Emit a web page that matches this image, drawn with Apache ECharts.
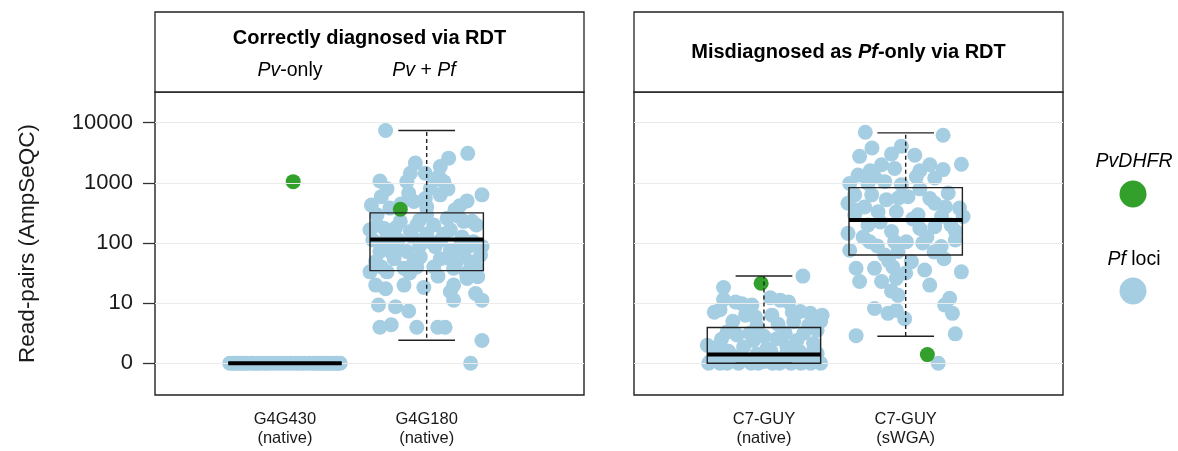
<!DOCTYPE html>
<html><head><meta charset="utf-8">
<script src="https://cdn.jsdelivr.net/npm/echarts@6/dist/echarts.min.js"></script>
<style>html,body{margin:0;padding:0;background:#fff}#c{width:1178px;height:451px}</style>
</head><body><div id="c"></div>
<script>
// ---------- data (y values are log10 read-pairs; x values are jitter offsets from the category position) ----------
const categoriesLeft = ['G4G430\n(native)', 'G4G180\n(native)'];
const categoriesRight = ['C7-GUY\n(native)', 'C7-GUY\n(sWGA)'];
const yTickValues = [0, 1, 2, 3, 4];
const yTickLabels = ['0', '10', '100', '1000', '10000'];

// box stats: [category, lowWhisker, q1, median, q3, highWhisker]
const boxLeft = [[1, 0, 0, 0, 0, 0], [2, 0.383, 1.54, 2.06, 2.5, 3.87]];
const boxRight = [[1, 0, 0, 0.145, 0.594, 1.45], [2, 0.45, 1.8, 2.383, 2.92, 3.83]];

// PvDHFR points: [category, xOffset, log10 reads]
const pvLeft = [[1, 0.058, 3.02], [2, -0.186, 2.56]];
const pvRight = [[1, -0.02, 1.33], [2, 0.153, 0.145]];

// Pf loci points: [xOffset, log10 reads]
const pfG4G430 = [[-0.39,0],[-0.37,0],[-0.35,0],[-0.33,0],[-0.31,0],[-0.29,0],[-0.27,0],[-0.24,0],[-0.22,0],[-0.2,0],
  [-0.18,0],[-0.15,0],[-0.13,0],[-0.11,0],[-0.08,0],[-0.05,0],[-0.02,0],[0.01,0],[0.04,0],[0.07,0],[0.09,0],[0.12,0],
  [0.14,0],[0.17,0],[0.2,0],[0.22,0],[0.24,0],[0.26,0],[0.28,0],[0.3,0],[0.32,0],[0.34,0],[0.36,0],[0.37,0],[0.39,0]];
const pfG4G180 = [[-0.29,3.87],[0.29,3.49],[0.155,3.41],[0.096,3.27],[-0.08,3.33],[-0.01,3.16],[-0.115,3.16],[-0.33,3.03],
  [-0.14,3.02],[0.085,3.1],[0.12,3.02],[0.026,2.91],[0.096,2.8],[-0.32,2.77],[-0.127,2.83],[0.39,2.8],[0.285,2.7],
  [0.233,2.62],[-0.39,2.63],[-0.01,2.74],[-0.09,2.69],[-0.35,2.47],[-0.26,2.58],[0,2.47],[0.144,2.41],[0.26,2.36],
  [0.32,2.36],[-0.4,2.22],[-0.28,2.11],[-0.07,2.3],[0.05,2.3],[0.167,2.22],[-0.115,2.19],[-0.186,2.36],[0.33,2.02],
  [0.39,1.94],[0.24,1.97],[0.026,2.02],[-0.21,1.94],[-0.33,1.86],[-0.14,1.86],[0.167,1.88],[0.096,1.74],[-0.045,1.77],
  [-0.23,1.74],[-0.36,1.69],[0.31,1.69],[0.26,1.8],[0.38,1.8],[-0.4,1.52],[-0.28,1.52],[-0.16,1.58],[-0.07,1.6],
  [0.05,1.6],[0.19,1.58],[0.285,1.41],[0.36,1.44],[-0.36,1.3],[-0.29,1.24],[-0.16,1.3],[-0.02,1.26],[0.167,1.19],
  [0.19,1.3],[0.345,1.16],[0.39,1.05],[0.19,1.05],[-0.34,0.97],[-0.22,0.94],[-0.127,0.87],[-0.33,0.6],[-0.25,0.64],
  [-0.07,0.6],[0.078,0.6],[0.13,0.6],[0.39,0.38],[0.31,0.0],[-0.3,2.24],[0.21,1.69],[-0.09,1.69],[0.06,1.94],
  [-0.38,2.05],[0.12,2.15],[-0.2,2.05],[0.35,2.3],[0.0,2.6],[-0.05,2.38],[0.2,2.55],[-0.3,2.0],
  [-0.35,2.3],[-0.22,2.25],[-0.1,2.1],[0.0,2.15],[0.1,2.05],[0.25,2.1],[0.3,1.95],[-0.25,1.85],[-0.05,1.95],[0.15,1.75],
  [0.35,1.6],[-0.32,1.6],[-0.12,1.5],[0.08,1.45],[0.28,1.5],[-0.18,2.65],[0.15,2.9],[0.22,2.45],[-0.28,2.9],[0.05,3.05]];
const pfC7Native = [[0.275,1.45],[-0.285,1.26],[-0.285,1.06],[-0.31,0.89],[-0.155,0.99],[-0.085,0.97],[0.045,1.09],
  [0.115,1.05],[0.174,1.02],[-0.13,0.8],[-0.06,0.77],[0.056,0.8],[0.256,0.86],[0.327,0.83],[0.41,0.8],[0.21,0.69],
  [0.315,0.63],[0.375,0.55],[-0.4,0.3],[-0.26,0.52],[-0.19,0.47],[-0.073,0.38],[0.092,0.41],[0.233,0.38],[0.35,0.33],
  [-0.33,0.27],[-0.144,0.27],[0.02,0.24],[0.162,0.27],[0.375,0.16],[-0.38,0.03],[-0.285,0.02],[-0.19,0.03],
  [-0.096,0.02],[0,0.03],[0.092,0.02],[0.186,0.03],[0.28,0.02],[0.375,0.03],[-0.39,0],[-0.31,0],[-0.26,0],[-0.18,0],
  [-0.09,0],[-0.04,0],[0.06,0],[0.11,0],[0.19,0],[0.26,0],[0.33,0],[0.4,0],[-0.22,0.12],[0.05,0.1],[0.3,0.11],[-0.35,0.14],
  [-0.35,0.1],[-0.25,0.2],[-0.15,0.1],[-0.05,0.15],[0.05,0.2],[0.15,0.12],[0.25,0.2],[0.35,0.22],[-0.3,0.4],[-0.1,0.5],
  [0.0,0.45],[0.15,0.5],[0.28,0.5],[-0.22,0.7],[-0.05,0.62],[0.1,0.65],[0.4,0.7],[-0.35,0.85],[0.2,0.85],[-0.2,1.02]];
const pfC7SWGA = [[-0.285,3.84],[0.264,3.79],[0.393,3.31],[-0.238,3.58],[-0.325,3.44],[-0.03,3.61],[0.064,3.46],
  [-0.1,3.48],[0.17,3.3],[0.264,3.22],[-0.17,3.3],[-0.078,3.24],[0.075,3.1],[-0.22,3.1],[-0.336,3.13],[-0.395,2.99],
  [0.205,3.08],[-0.148,3.02],[-0.03,2.97],[0.3,2.83],[-0.407,2.66],[-0.24,2.8],[-0.136,2.72],[0.016,2.77],[0.17,2.74],
  [0.205,2.66],[0.38,2.58],[-0.29,2.6],[0.087,2.47],[0.253,2.44],[0.405,2.44],[-0.36,2.47],[-0.195,2.52],[-0.066,2.52],
  [-0.407,2.16],[-0.266,2.3],[-0.1,2.19],[0.1,2.24],[0.205,2.27],[0.32,2.3],[0.35,2.05],[-0.395,1.88],[-0.254,2.02],
  [-0.078,2.02],[0.005,2.02],[0.12,2.0],[0.25,1.94],[-0.054,1.86],[0.04,1.69],[0.27,1.74],[-0.35,1.58],[-0.22,1.58],
  [-0.09,1.6],[0.134,1.55],[0.393,1.52],[-0.325,1.36],[-0.17,1.36],[-0.066,1.41],[0.17,1.3],[-0.054,1.13],[0.31,1.08],
  [0.275,0.97],[0.33,0.83],[-0.22,0.91],[-0.125,0.83],[-0.066,0.88],[-0.007,0.74],[-0.35,0.46],[0.35,0.49],[0.23,0.0],
  [-0.148,1.8],[-0.36,2.8],[-0.266,2.99],
  [-0.3,2.1],[-0.18,2.35],[0.05,2.4],[0.15,2.1],[0.28,2.6],[-0.05,2.75],[0.1,2.9],[-0.35,2.55],[0.35,2.2],[-0.2,1.95],
  [0.2,1.85],[-0.12,1.7],[0.0,1.5],[-0.1,1.2],[0.1,3.2],[-0.25,3.2]];

// ---------- styling / layout ----------
const FONT = 'Liberation Sans, Arial, Helvetica, sans-serif';
const BLUE = '#a6cee3', GREEN = '#33a02c', INK = '#1a1a1a', FRAME = '#222';
const P0 = {left: 155, top: 92, width: 429, height: 303};
const P1 = {left: 634, top: 92, width: 429, height: 303};
const HEAD_TOP = 12;

function withCat(cat, arr) { return arr.map(p => [cat + p[0], p[1]]); }

function renderBox(params, api) {
  const x = api.value(0), lo = api.value(1), q1 = api.value(2), med = api.value(3), q3 = api.value(4), hi = api.value(5);
  const hw = 0.4, cw = 0.2;
  const a = api.coord([x - hw, q3]), b = api.coord([x + hw, q1]);
  const m1 = api.coord([x - hw, med]), m2 = api.coord([x + hw, med]);
  const cHi = api.coord([x, hi]), cQ3 = api.coord([x, q3]), cQ1 = api.coord([x, q1]), cLo = api.coord([x, lo]);
  const capHiL = api.coord([x - cw, hi]), capHiR = api.coord([x + cw, hi]);
  const capLoL = api.coord([x - cw, lo]), capLoR = api.coord([x + cw, lo]);
  const thin = {stroke: FRAME, lineWidth: 1.4, fill: null};
  const dash = {stroke: FRAME, lineWidth: 1.4, lineDash: [4, 3]};
  const children = [];
  if (hi > q3) children.push({type: 'line', shape: {x1: cQ3[0], y1: cQ3[1], x2: cHi[0], y2: cHi[1]}, style: dash});
  if (lo < q1) children.push({type: 'line', shape: {x1: cQ1[0], y1: cQ1[1], x2: cLo[0], y2: cLo[1]}, style: dash});
  children.push({type: 'line', shape: {x1: capHiL[0], y1: capHiL[1], x2: capHiR[0], y2: capHiR[1]}, style: thin});
  children.push({type: 'line', shape: {x1: capLoL[0], y1: capLoL[1], x2: capLoR[0], y2: capLoR[1]}, style: thin});
  children.push({type: 'rect', shape: {x: a[0], y: a[1], width: b[0] - a[0], height: b[1] - a[1]}, style: thin});
  children.push({type: 'line', shape: {x1: m1[0], y1: m1[1], x2: m2[0], y2: m2[1]}, style: {stroke: '#000', lineWidth: 4}});
  return {type: 'group', children};
}

function xAxisFor(idx, cats) {
  return {
    gridIndex: idx, type: 'value', min: 0.083, max: 3.11,
    axisLine: {show: false}, axisTick: {show: false}, splitLine: {show: false},
    axisLabel: {customValues: [1, 2], formatter: v => cats[Math.round(v) - 1] || '',
      fontFamily: FONT, fontSize: 16.5, lineHeight: 19, color: INK, margin: 15}
  };
}
function yAxisFor(idx, showLabels) {
  return {
    gridIndex: idx, type: 'value', min: -0.527, max: 4.51,
    axisLine: {show: false}, splitLine: {show: false},
    axisTick: {show: showLabels, customValues: yTickValues, length: 12, lineStyle: {color: '#333', width: 1.3}},
    axisLabel: {show: showLabels, customValues: yTickValues,
      formatter: v => yTickLabels[yTickValues.indexOf(Math.round(v))] || '',
      fontFamily: FONT, fontSize: 22, color: INK, margin: 22},
    name: showLabels ? 'Read-pairs (AmpSeQC)' : '', nameLocation: 'middle', nameGap: 116,
    nameTextStyle: {fontFamily: FONT, fontSize: 22.5, color: INK}
  };
}
function gridLines(idx) {
  return {type: 'line', xAxisIndex: idx, yAxisIndex: idx, data: [], z: 1, silent: true,
    markLine: {silent: true, symbol: 'none', label: {show: false}, animation: false,
      lineStyle: {color: '#ebebeb', width: 1, type: 'solid'},
      data: yTickValues.map(v => ({yAxis: v}))}};
}
function scatter(idx, data, color, z) {
  return {type: 'scatter', xAxisIndex: idx, yAxisIndex: idx, data, symbolSize: 15, z, silent: true,
    itemStyle: {color, opacity: 1}};
}
function boxes(idx, data) {
  return {type: 'custom', xAxisIndex: idx, yAxisIndex: idx, data, renderItem: renderBox, z: 5, silent: true,
    encode: {x: 0, y: [1, 2, 3, 4, 5]}};
}

const head = (p) => ({type: 'rect', shape: {x: p.left, y: HEAD_TOP, width: p.width, height: p.top - HEAD_TOP},
  style: {fill: '#fff', stroke: FRAME, lineWidth: 1.3}});
const txt = (x, y, text, rich) => ({type: 'text', x, y, style: {text, rich, align: 'center', verticalAlign: 'middle',
  fontFamily: FONT, fill: '#000'}});
const richHead = {
  b: {fontFamily: FONT, fontSize: 20, fontWeight: 'bold', fill: '#000'},
  bi: {fontFamily: FONT, fontSize: 20, fontWeight: 'bold', fontStyle: 'italic', fill: '#000'},
  r: {fontFamily: FONT, fontSize: 19.5, fill: '#000'},
  i: {fontFamily: FONT, fontSize: 19.5, fontStyle: 'italic', fill: '#000'}
};

const option = {
  animation: false,
  backgroundColor: '#fff',
  grid: [
    Object.assign({show: true, borderColor: FRAME, borderWidth: 1.4, backgroundColor: 'transparent'}, P0),
    Object.assign({show: true, borderColor: FRAME, borderWidth: 1.4, backgroundColor: 'transparent'}, P1)
  ],
  xAxis: [xAxisFor(0, categoriesLeft), xAxisFor(1, categoriesRight)],
  yAxis: [yAxisFor(0, true), yAxisFor(1, false)],
  series: [
    gridLines(0), gridLines(1),
    scatter(0, withCat(1, pfG4G430).concat(withCat(2, pfG4G180)), BLUE, 2),
    scatter(1, withCat(1, pfC7Native).concat(withCat(2, pfC7SWGA)), BLUE, 2),
    scatter(0, pvLeft.map(p => [p[0] + p[1], p[2]]), GREEN, 3),
    scatter(1, pvRight.map(p => [p[0] + p[1], p[2]]), GREEN, 3),
    boxes(0, boxLeft), boxes(1, boxRight)
  ],
  graphic: [
    head(P0), head(P1),
    txt(P0.left + P0.width / 2, 38, '{b|Correctly diagnosed via RDT}', richHead),
    txt(290, 71, '{i|Pv}{r|-only}', richHead),
    txt(424, 71, '{i|Pv}{r| + }{i|Pf}', richHead),
    txt(P1.left + P1.width / 2, 52, '{b|Misdiagnosed as }{bi|Pf}{b|-only via RDT}', richHead),
    txt(1134, 162, '{i|PvDHFR}', richHead),
    {type: 'circle', shape: {cx: 1133, cy: 194, r: 13.5}, style: {fill: GREEN}},
    txt(1134, 260, '{i|Pf}{r| loci}', richHead),
    {type: 'circle', shape: {cx: 1133, cy: 291, r: 13.5}, style: {fill: BLUE}}
  ]
};
const chart = echarts.init(document.getElementById('c'), null, {renderer: 'canvas'});
chart.setOption(option);
</script></body></html>
